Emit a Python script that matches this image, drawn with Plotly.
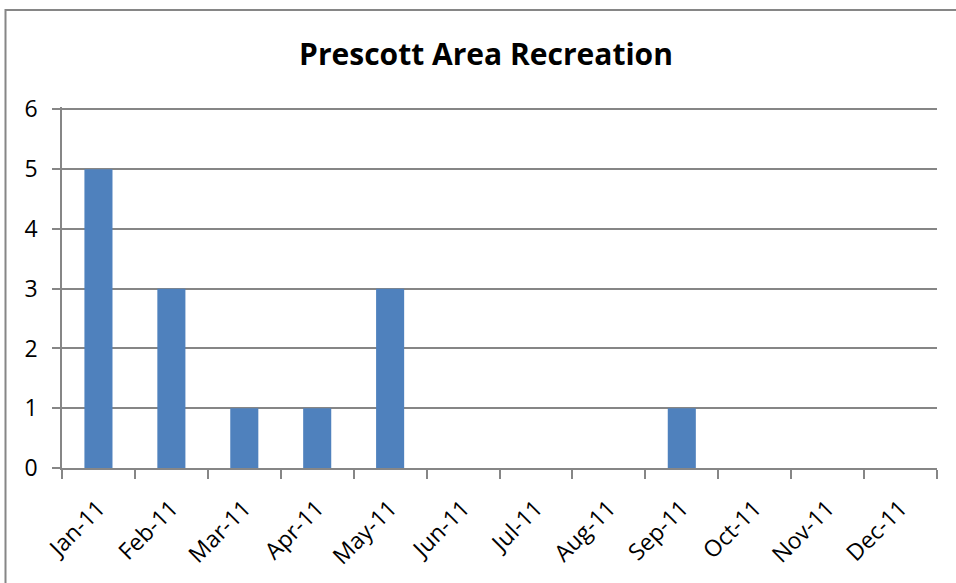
import plotly.graph_objects as go

months = ["Jan-11", "Feb-11", "Mar-11", "Apr-11", "May-11", "Jun-11",
          "Jul-11", "Aug-11", "Sep-11", "Oct-11", "Nov-11", "Dec-11"]
counts = [5, 3, 1, 1, 3, 0, 0, 0, 1, 0, 0, 0]
y_ticks = [0, 1, 2, 3, 4, 5, 6]

W, H = 956, 583
Y_TOP = 6.04
ML, MR, MT, MB = 62, 19, 106.6, 115
FONT = "Open Sans"
AXIS_GRAY = "#868686"

fig = go.Figure(go.Bar(
    x=months,
    y=counts,
    marker=dict(color="#4F81BD", line=dict(width=0)),
    hoverinfo="x+y",
))

fig.update_layout(
    width=W, height=H,
    margin=dict(l=ML, r=MR, t=MT, b=MB),
    paper_bgcolor="white",
    plot_bgcolor="white",
    bargap=0.615,
    showlegend=False,
    font=dict(family=FONT, size=20, color="black"),
    title=dict(
        text="<b>Prescott Area Recreation</b>",
        x=486 / W, xanchor="center",
        y=1 - 54 / H, yanchor="middle",
        font=dict(family=FONT, size=30, color="black"),
    ),
    xaxis=dict(
        type="category",
        tickangle=-45,
        ticks="outside",
        tickson="boundaries",
        ticklen=9,
        tickwidth=1.5,
        tickcolor=AXIS_GRAY,
        showline=True,
        linecolor=AXIS_GRAY,
        linewidth=1.5,
        showgrid=False,
        tickfont=dict(family=FONT, size=23),
        ticklabelstandoff=16,
    ),
    yaxis=dict(
        range=[0, Y_TOP],
        tickvals=y_ticks,
        ticks="outside",
        ticklen=8,
        tickwidth=1.5,
        tickcolor=AXIS_GRAY,
        showline=True,
        linecolor=AXIS_GRAY,
        linewidth=1.5,
        showgrid=True,
        gridcolor=AXIS_GRAY,
        gridwidth=1.5,
        zeroline=False,
        tickfont=dict(family=FONT, size=23),
        ticklabelstandoff=10,
    ),
    shapes=[dict(
        type="rect", xref="paper", yref="paper",
        x0=(5.5 - ML) / (W - ML - MR), x1=(W + 20 - ML) / (W - ML - MR),
        y0=(-20 - MB) / (H - MT - MB), y1=(H - 9.5 - MB) / (H - MT - MB),
        line=dict(color=AXIS_GRAY, width=2),
        fillcolor="rgba(0,0,0,0)",
        layer="above",
    )],
)

fig.write_html("out.html")
